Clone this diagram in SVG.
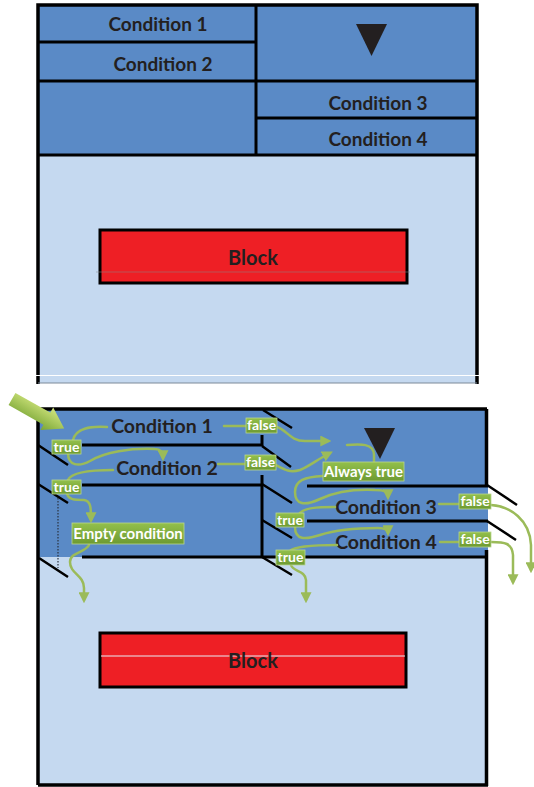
<svg xmlns="http://www.w3.org/2000/svg" width="534" height="787" viewBox="0 0 534 787">
<defs>
<style>
.dk{fill:#5a8ac6}
.lt{fill:#c5d9f0}
.bl{stroke:#000;stroke-width:3;fill:none}
.ob{stroke:#000;stroke-width:3.5;fill:none}
.dg{stroke:#000;stroke-width:2.5;fill:none}
.ct{font-family:Lato,"Liberation Sans",sans-serif;font-weight:bold;font-size:19px;fill:#231f20;text-anchor:middle}
.cb{font-family:Lato,"Liberation Sans",sans-serif;font-weight:bold;font-size:19.5px;fill:#231f20;text-anchor:middle}
.blk{fill:#ee1f25;stroke:#000;stroke-width:3}
.bt{font-family:Lato,"Liberation Sans",sans-serif;font-weight:bold;font-size:20px;fill:#231f20;text-anchor:middle}
.gl{fill:url(#gg);stroke:#b9d68e;stroke-width:0.8}
.gt{font-family:Lato,"Liberation Sans",sans-serif;font-weight:bold;font-size:14px;fill:#fff;text-anchor:middle}
.gb{font-family:Lato,"Liberation Sans",sans-serif;font-weight:bold;font-size:15px;fill:#fff;text-anchor:middle}
.cn{fill:none;stroke:#9bbb59;stroke-width:2.5;stroke-linecap:round}
.ca{marker-end:url(#ah)}
</style>
<linearGradient id="gg" x1="0" y1="0" x2="0" y2="1">
<stop offset="0" stop-color="#93c04b"/>
<stop offset="1" stop-color="#6d9a32"/>
</linearGradient>
<linearGradient id="ag" x1="0" y1="0" x2="0" y2="1">
<stop offset="0" stop-color="#d2e67f"/>
<stop offset="1" stop-color="#79a535"/>
</linearGradient>
<marker id="ah" markerUnits="userSpaceOnUse" markerWidth="11" markerHeight="11" refX="7" refY="5" orient="auto" viewBox="0 0 10 10">
<path d="M0,0 L10,5 L0,10 z" fill="#9bbb59"/>
</marker>
</defs>

<g id="top-diagram">
<g id="top-frame">
<rect x="38" y="5" width="439" height="150" class="dk"/>
<rect x="38" y="155" width="439" height="228" class="lt"/>
<path d="M38,384 V5 H477 V384" class="ob"/>
<path d="M38,383 H477" stroke="#7d8a99" stroke-width="1"/>
<path d="M36,375.5 H481" stroke="#fff" stroke-width="1"/>
<path d="M38,42 H256 M38,81 H477 M256,118 H477 M38,155 H477 M256,5 V155" class="bl"/>
</g>
<g id="top-cond1"><text x="158" y="31" class="ct">Condition 1</text></g>
<g id="top-cond2"><text x="163" y="71" class="ct">Condition 2</text></g>
<g id="top-loop"><path d="M356,24 L387,24 L371.5,56 z" fill="#231f20"/></g>
<g id="top-cond3"><text x="378" y="110" class="ct">Condition 3</text></g>
<g id="top-cond4"><text x="378" y="146" class="ct">Condition 4</text></g>
<g id="top-block">
<rect x="100" y="230" width="307" height="53" class="blk"/>
<path d="M96,272 H410" stroke="#8a8a8a" stroke-opacity="0.5" stroke-width="1"/>
<text x="253" y="265" class="bt">Block</text>
</g>
</g>

<g id="bottom-diagram">
<g id="bottom-frame">
<rect x="38" y="409" width="450" height="148" class="dk"/>
<rect x="38" y="557" width="449" height="228" class="lt"/>
<path d="M38,785 V409 H487 M486.5,409 V486 M486.5,550 V786 M38,785 H488" class="ob"/>
<path d="M82,445 H262 M262,435 V446 M82,485 H262 M262,475 V557 M307,486 H488 M307,521 H488 M82,557 H488" class="bl"/>
<path d="M38,445 L68,465 M38,484 L68,503 M39,558 L68,577 M263,410 L292,428 M262,446 L291,467 M262,484 L292,503 M262,520 L292,538 M262,557 L292,575 M487,485 L517,505 M487,521 L516,540" class="dg"/>
<path d="M58,498 V568" stroke="#2a3340" stroke-width="1.2" stroke-dasharray="1.5,1.5"/>
</g>
<g id="start-arrow">
<path d="M0,-7 L40,-7 L40,-13 L60,0 L40,13 L40,7 L0,7 z" transform="translate(12,399) rotate(29.5)" fill="url(#ag)"/>
</g>
<g id="b-cond1"><text x="162" y="433" class="cb">Condition 1</text></g>
<g id="b-cond2"><text x="167" y="475" class="cb">Condition 2</text></g>
<g id="b-loop"><path d="M364,428 L395,428 L380,459 z" fill="#231f20"/></g>
<g id="b-cond3"><text x="386" y="514" class="cb">Condition 3</text></g>
<g id="b-cond4"><text x="386" y="549" class="cb">Condition 4</text></g>
<g id="b-block">
<rect x="100" y="633" width="306" height="54" class="blk"/>
<path d="M101,656 H405" stroke="#e8eef5" stroke-width="1.2"/>
<text x="253" y="668" class="bt">Block</text>
</g>

<g id="connectors">
<path d="M107,427 C90,426 76,428 73,440" class="cn"/>
<path d="M68,453 C68,466 79,467 90,461 C105,452 130,448 155,449 C161,449 163,452 163,458" class="cn ca"/>
<path d="M113,470 C95,470 72,471 68,480" class="cn"/>
<path d="M67,493 C68,500 75,500 84,500 C91,501 91,508 91,520" class="cn ca"/>
<path d="M89,545 C85,553 70,552 70,562 C70,574 84,575 84,588 L84,600" class="cn ca"/>
<path d="M224,426 H246" class="cn"/>
<path d="M277,427 C287,430 290,441 305,441 L328,441" class="cn ca"/>
<path d="M218,464 H245" class="cn"/>
<path d="M276,465 C285,470 290,473 300,470 C310,466 318,459 330,453" class="cn ca"/>
<path d="M347,445 C360,444 374,443 374,455 L374,462" class="cn"/>
<path d="M323,476 C305,477 295,480 295,492 C295,505 305,506 320,499 C335,492 355,489 375,490 C385,490 388,492 388,497" class="cn ca"/>
<path d="M335,507 C315,507 305,508 300,513" class="cn"/>
<path d="M295,527 C295,540 305,540 320,535 C335,530 355,528 378,528 C385,528 388,530 388,533" class="cn ca"/>
<path d="M337,545 C315,545 295,546 290,551" class="cn"/>
<path d="M291,565 C293,572 305,570 306,580 L306,600" class="cn ca"/>
<path d="M439,504 H459" class="cn"/>
<path d="M491,505 C510,506 530,520 531,545 L531,570" class="cn ca"/>
<path d="M440,542 H459" class="cn"/>
<path d="M491,542 C505,542 512,543 513,555 L513,582" class="cn ca"/>
</g>

<g id="lbl-true1"><rect x="52" y="440" width="29" height="14" class="gl"/><text x="66.5" y="451.5" class="gt">true</text></g>
<g id="lbl-true2"><rect x="52" y="480" width="29" height="14" class="gl"/><text x="66.5" y="491.5" class="gt">true</text></g>
<g id="lbl-false1"><rect x="246" y="418" width="31" height="15" class="gl"/><text x="261.5" y="430" class="gt">false</text></g>
<g id="lbl-false2"><rect x="245" y="455" width="31" height="15" class="gl"/><text x="260.5" y="467" class="gt">false</text></g>
<g id="lbl-always"><rect x="323" y="462" width="81" height="19" class="gl"/><text x="363.5" y="476.5" class="gb">Always true</text></g>
<g id="lbl-empty"><rect x="72" y="523" width="112" height="21" class="gl"/><text x="128" y="539" class="gb">Empty condition</text></g>
<g id="lbl-true3"><rect x="276" y="513" width="28" height="14" class="gl"/><text x="290" y="524.5" class="gt">true</text></g>
<g id="lbl-true4"><rect x="276" y="550" width="29" height="15" class="gl"/><text x="290.5" y="562" class="gt">true</text></g>
<g id="lbl-false3"><rect x="459" y="494" width="32" height="15" class="gl"/><text x="475" y="506" class="gt">false</text></g>
<g id="lbl-false4"><rect x="459" y="532" width="32" height="15" class="gl"/><text x="475" y="544" class="gt">false</text></g>
</g>
</svg>
